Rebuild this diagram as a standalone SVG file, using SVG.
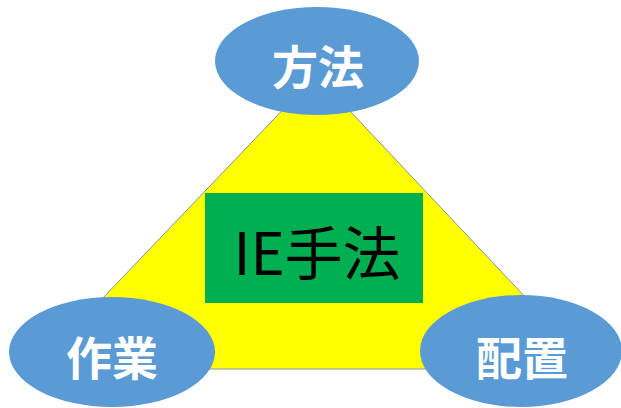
<svg xmlns="http://www.w3.org/2000/svg" width="621" height="408" viewBox="0 0 621 408">
<style>
.oval{fill:#5B9BD5;}
.lbl{fill:#FFFFFF;font-family:"Noto Sans CJK JP","Noto Sans CJK SC",sans-serif;font-weight:bold;font-size:46px;text-anchor:middle;}
.main{fill:#000000;font-family:"Noto Sans CJK JP","Noto Sans CJK SC",serif;font-size:58px;text-anchor:middle;}
</style>
<rect width="621" height="408" fill="#FFFFFF"/>
<g id="triangle">
<polygon points="316,75 35,369 593,369" fill="#FFFF00" stroke="#7F93A8" stroke-width="1"/>
</g>
<g id="ie">
<rect x="205" y="193" width="218" height="110" fill="#00B050"/>
<text class="main" x="317" y="275">IE手法</text>
</g>
<g id="method">
<ellipse class="oval" cx="317" cy="61" rx="102" ry="54"/>
<text class="lbl" x="318" y="84">方法</text>
</g>
<g id="work">
<ellipse class="oval" cx="112" cy="352" rx="103" ry="55"/>
<text class="lbl" x="112" y="375">作業</text>
</g>
<g id="layout">
<ellipse class="oval" cx="521" cy="351" rx="101" ry="56"/>
<text class="lbl" x="522" y="375">配置</text>
</g>
<g id="connectors"></g>
</svg>
